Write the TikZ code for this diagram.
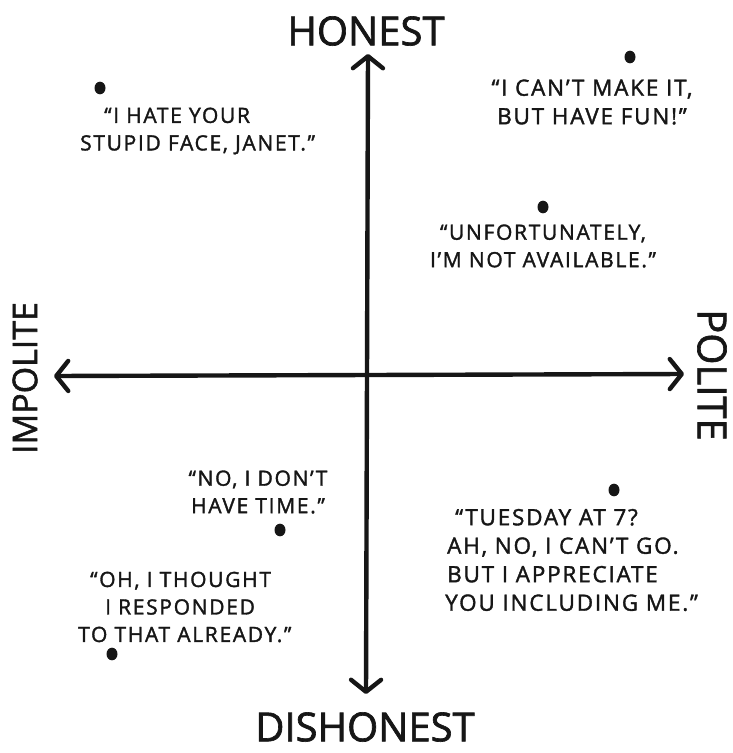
\documentclass[tikz,border=0pt]{standalone}
\usepackage{fontspec}
\setmainfont{Open Sans}
\newfontfamily\hand{Open Sans}[FakeBold=1.6, LetterSpace=8]
\newfontfamily\handbig{Open Sans}[FakeBold=1.6]
\usetikzlibrary{arrows.meta}
\definecolor{ink}{HTML}{161616}
\tikzset{
  barb/.tip={Straight Barb[length=12pt,width=30pt,line width=4.4pt,round]},
  axis/.style={draw=ink, line width=4.4pt, line cap=round, arrows={barb-barb}},
  axislabel/.style={text=ink, inner sep=0pt, font=\handbig\fontsize{40}{44}\selectfont},
  quote/.style={text=ink, inner sep=0pt, align=center, font=\hand\fontsize{21}{27.5}\selectfont},
  bigquote/.style={quote, font=\hand\fontsize{22.5}{28.5}\selectfont},
  spot/.style={circle, fill=ink, minimum size=11pt, inner sep=0pt, yscale=1.15},
}
\begin{document}
\begin{tikzpicture}[x=1pt,y=-1pt]
\useasboundingbox (0,0) rectangle (732,753);
% axis end points
\coordinate (top) at (368,54);
\coordinate (bottom) at (366,694);
\coordinate (left) at (54,376);
\coordinate (right) at (684,374);
\draw[axis] (bottom) -- (top);
\draw[axis] (left) -- (right);
% axis labels
\node[axislabel] (honest) at (366,31) {HONEST};
\node[axislabel] (dishonest) at (365,727) {DISHONEST};
\node[axislabel, rotate=90, font=\handbig\fontsize{34}{38}\selectfont] (impolite) at (25,378) {IMPOLITE};
\node[axislabel, rotate=-90] (polite) at (712,375) {POLITE};
% points
\node[spot] (p1) at (100,88) {};
\node[quote, align=left, anchor=west] (q1) at (80,131) {\hspace*{24pt}“I HATE YOUR\\STUPID FACE, JANET.”};
\node[spot] (p2) at (630,57) {};
\node[bigquote] (q2) at (592,102) {“I CAN’T MAKE IT,\\BUT HAVE FUN!”};
\node[spot] (p3) at (543,207) {};
\node[quote] (q3) at (543,246) {“UNFORTUNATELY,\\I’M NOT AVAILABLE.”};
\node[spot] (p4) at (280,530) {};
\node[quote] (q4) at (258,492) {“NO, I DON’T\\HAVE TIME.”};
\node[spot] (p5) at (112,654) {};
\node[quote, align=left, anchor=west] (q5) at (78,607) {\hspace*{12pt}“OH, I THOUGHT\\\hspace*{27pt}I RESPONDED\\TO THAT ALREADY.”};
\node[spot] (p6) at (614,490) {};
\node[bigquote, align=left, anchor=west] (q6) at (445,560) {\hspace*{10pt}“TUESDAY AT 7?\\\hspace*{2pt}AH, NO, I CAN’T GO.\\\hspace*{2pt}BUT I APPRECIATE\\YOU INCLUDING ME.”};
\end{tikzpicture}
\end{document}
